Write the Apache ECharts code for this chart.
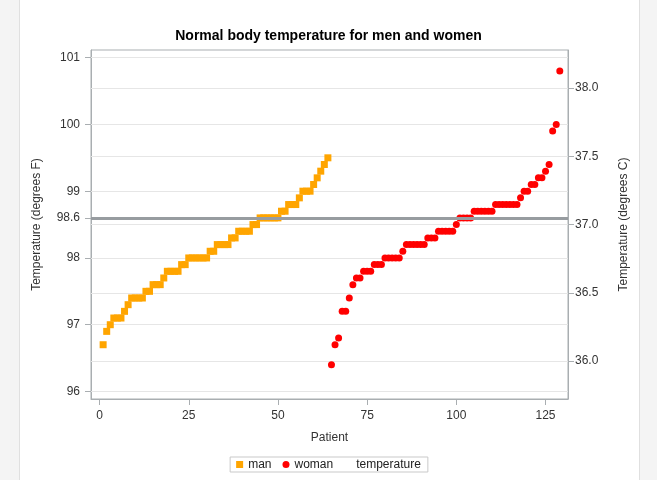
<!DOCTYPE html>
<html>
<head>
<meta charset="utf-8">
<script src="https://cdn.jsdelivr.net/npm/echarts@6/dist/echarts.min.js"></script>
<style>
  html, body { margin: 0; padding: 0; background: #f4f4f4; }
  #chart { width: 657px; height: 480px; }
</style>
</head>
<body>
<div id="chart"></div>
<script>
// Sorted oral temperatures (degrees F), one value per patient
const chartTitle = 'Normal body temperature for men and women';
const menFirstPatient = 1;
const menTemps = [
  96.7, 96.9, 97.0, 97.1, 97.1, 97.1, 97.2, 97.3, 97.4, 97.4, 97.4, 97.4,
  97.5, 97.5, 97.6, 97.6, 97.6, 97.7, 97.8, 97.8, 97.8, 97.8, 97.9, 97.9,
  98.0, 98.0, 98.0, 98.0, 98.0, 98.0, 98.1, 98.1, 98.2, 98.2, 98.2, 98.2,
  98.3, 98.3, 98.4, 98.4, 98.4, 98.4, 98.5, 98.5, 98.6, 98.6, 98.6, 98.6,
  98.6, 98.6, 98.7, 98.7, 98.8, 98.8, 98.8, 98.9, 99.0, 99.0, 99.0, 99.1,
  99.2, 99.3, 99.4, 99.5
];
const womenFirstPatient = 65;
const womenTemps = [
  96.4, 96.7, 96.8, 97.2, 97.2, 97.4, 97.6, 97.7, 97.7, 97.8, 97.8, 97.8,
  97.9, 97.9, 97.9, 98.0, 98.0, 98.0, 98.0, 98.0, 98.1, 98.2, 98.2, 98.2,
  98.2, 98.2, 98.2, 98.3, 98.3, 98.3, 98.4, 98.4, 98.4, 98.4, 98.4, 98.5,
  98.6, 98.6, 98.6, 98.6, 98.7, 98.7, 98.7, 98.7, 98.7, 98.7, 98.8, 98.8,
  98.8, 98.8, 98.8, 98.8, 98.8, 98.9, 99.0, 99.0, 99.1, 99.1, 99.2, 99.2,
  99.3, 99.4, 99.9, 100.0, 100.8
];
const normalTemp = 98.6;

// Axis ticks
const patientTicks = [0, 25, 50, 75, 100, 125];
const fahrenheitTicks = [96, 97, 98, 98.6, 99, 100, 101];
const celsiusTicks = [36.0, 36.5, 37.0, 37.5, 38.0];

// Axis ranges
const patientRange = [-2.4, 131.3];
const fahrenheitRange = [95.887, 101.115];
const celsiusRange = [35.723, 38.279];

const font = '"Liberation Sans", Arial, sans-serif';
const axisGray = '#a9aeb1';
const gridGray = '#e6e6e6';
const textColor = '#333';

const menPoints = menTemps.map((t, i) => [menFirstPatient + i, t]);
const womenPoints = womenTemps.map((t, i) => [womenFirstPatient + i, t]);

function gridMarks(values) {
  return {
    silent: true,
    z: 1,
    symbol: 'none',
    animation: false,
    label: { show: false },
    emphasis: { disabled: true },
    lineStyle: { color: gridGray, width: 1, type: 'solid' },
    data: values.map(v => ({ yAxis: v }))
  };
}

const axisCommon = {
  axisLine: { show: true, onZero: false, lineStyle: { color: axisGray, width: 1 } },
  splitLine: { show: false },
  nameTextStyle: { fontFamily: font, fontSize: 12, color: textColor }
};

const chart = echarts.init(document.getElementById('chart'), null, { renderer: 'canvas' });
chart.setOption({
  animation: false,
  backgroundColor: 'transparent',
  textStyle: { fontFamily: font },
  graphic: [{
    type: 'rect',
    z: -100,
    silent: true,
    shape: { x: 19.5, y: -1, width: 620, height: 482 },
    style: { fill: '#ffffff', stroke: '#e0e0e0', lineWidth: 1 }
  }],
  title: {
    text: chartTitle,
    left: 'center',
    top: 29,
    padding: 0,
    textStyle: { fontFamily: font, fontSize: 14, fontWeight: 'bold', color: '#000' }
  },
  grid: {
    left: 91, right: 89, top: 50, bottom: 81,
    show: true, backgroundColor: '#fff', borderColor: axisGray, borderWidth: 1
  },
  legend: {
    left: 'center',
    top: 457,
    orient: 'horizontal',
    itemWidth: 7,
    itemHeight: 7,
    itemGap: 11,
    padding: [1, 7, 1, 6],
    borderColor: '#c9c9c9',
    borderWidth: 1,
    textStyle: { fontFamily: font, fontSize: 12, color: '#222', lineHeight: 13 },
    data: [
      { name: 'man', icon: 'rect' },
      { name: 'woman', icon: 'circle' },
      { name: 'temperature', icon: 'none' }
    ]
  },
  xAxis: Object.assign({}, axisCommon, {
    type: 'value',
    min: patientRange[0],
    max: patientRange[1],
    name: 'Patient',
    nameLocation: 'middle',
    nameGap: 33,
    axisTick: { show: true, length: 6, customValues: patientTicks, lineStyle: { color: axisGray } },
    axisLabel: { customValues: patientTicks, margin: 11, color: textColor, fontSize: 12, fontFamily: font }
  }),
  yAxis: [
    Object.assign({}, axisCommon, {
      type: 'value',
      position: 'left',
      min: fahrenheitRange[0],
      max: fahrenheitRange[1],
      name: 'Temperature (degrees F)',
      nameLocation: 'middle',
      nameRotate: 90,
      nameGap: 48,
      axisTick: { show: true, length: 6, customValues: fahrenheitTicks, lineStyle: { color: axisGray } },
      axisLabel: { customValues: fahrenheitTicks, margin: 11, color: textColor, fontSize: 12, fontFamily: font,
        formatter: v => String(v) }
    }),
    Object.assign({}, axisCommon, {
      type: 'value',
      position: 'right',
      min: celsiusRange[0],
      max: celsiusRange[1],
      name: 'Temperature (degrees C)',
      nameLocation: 'middle',
      nameRotate: 90,
      nameGap: 50,
      axisTick: { show: true, length: 6, customValues: celsiusTicks, lineStyle: { color: axisGray } },
      axisLabel: { customValues: celsiusTicks, margin: 7, color: textColor, fontSize: 12, fontFamily: font,
        formatter: v => v.toFixed(1) }
    })
  ],
  series: [
    {
      name: 'fahrenheit grid',
      type: 'scatter',
      yAxisIndex: 0,
      data: [],
      z: 1,
      silent: true,
      markLine: gridMarks(fahrenheitTicks)
    },
    {
      name: 'temperature',
      type: 'scatter',
      yAxisIndex: 1,
      data: [],
      symbol: 'none',
      z: 1,
      silent: true,
      markLine: gridMarks(celsiusTicks)
    },
    {
      name: 'man',
      type: 'scatter',
      yAxisIndex: 0,
      symbol: 'rect',
      symbolSize: 7,
      itemStyle: { color: '#ffa500', opacity: 1 },
      z: 3,
      data: menPoints
    },
    {
      name: 'woman',
      type: 'scatter',
      yAxisIndex: 0,
      symbol: 'circle',
      symbolSize: 7,
      itemStyle: { color: '#ff0000', opacity: 1 },
      z: 3,
      data: womenPoints
    },
    {
      name: 'normal',
      type: 'scatter',
      yAxisIndex: 0,
      data: [],
      z: 5,
      silent: true,
      markLine: {
        silent: true,
        z: 6,
        symbol: 'none',
        animation: false,
        label: { show: false },
        emphasis: { disabled: true },
        lineStyle: { color: '#979ca0', width: 3, type: 'solid' },
        data: [{ yAxis: normalTemp }]
      }
    }
  ]
});
</script>
</body>
</html>
